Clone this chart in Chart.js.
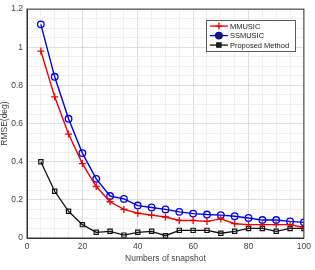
<!DOCTYPE html>
<html>
<head>
<meta charset="utf-8">
<script src="https://cdn.jsdelivr.net/npm/chart.js@4/dist/chart.umd.min.js"></script>
<style>
  html, body { margin: 0; padding: 0; background: #fff; }
  #wrap { width: 315px; height: 270px; }
</style>
</head>
<body>
<div id="wrap"><canvas id="rmseChart" width="315" height="270"></canvas></div>
<script>
const snapshots = [5, 10, 15, 20, 25, 30, 35, 40, 45, 50, 55, 60, 65, 70, 75, 80, 85, 90, 95, 100];
const mmusic = [0.98, 0.74, 0.545, 0.39, 0.27, 0.19, 0.15, 0.13, 0.12, 0.11, 0.092, 0.092, 0.087, 0.1, 0.075, 0.07, 0.07, 0.07, 0.07, 0.055];
const ssmusic = [1.12, 0.845, 0.625, 0.445, 0.31, 0.22, 0.205, 0.17, 0.16, 0.15, 0.137, 0.128, 0.123, 0.12, 0.114, 0.105, 0.094, 0.094, 0.087, 0.082];
const proposed = [0.40, 0.245, 0.14, 0.07, 0.03, 0.035, 0.015, 0.03, 0.035, 0.012, 0.04, 0.04, 0.04, 0.025, 0.035, 0.05, 0.05, 0.035, 0.05, 0.05];
const xTickLabels = [0, 20, 40, 60, 80, 100];
const yTickLabels = [0, 0.2, 0.4, 0.6, 0.8, 1, 1.2];

const font = "'Liberation Sans', Arial, sans-serif";

function toPoints(vals) {
    return vals.map((v, i) => ({x: snapshots[i], y: v}));
}

function isMajor(v, step) {
    return Math.abs(v / step - Math.round(v / step)) < 1e-6;
}

// matlab style legend box with line + marker
const boxLegend = {
    id: 'boxLegend',
    afterDraw(chart) {
        const ctx = chart.ctx;
        const a = chart.chartArea;
        const w = 89, h = 31;
        const x0 = a.right - w - 9, y0 = a.top + 11;
        ctx.save();
        ctx.fillStyle = '#fff';
        ctx.fillRect(x0, y0, w, h);
        ctx.strokeStyle = '#333';
        ctx.lineWidth = 0.8;
        ctx.strokeRect(x0 + 0.5, y0 + 0.5, w, h);
        ctx.font = '7.5px ' + font;
        ctx.textBaseline = 'middle';
        chart.data.datasets.forEach((ds, i) => {
            const cy = y0 + 6 + i * 9.5;
            ctx.strokeStyle = ds.borderColor;
            ctx.lineWidth = 1.3;
            ctx.beginPath();
            ctx.moveTo(x0 + 4, cy);
            ctx.lineTo(x0 + 22, cy);
            ctx.stroke();
            Chart.helpers.drawPoint(ctx, {
                pointStyle: ds.pointStyle, rotation: 0, radius: ds.pointRadius,
                borderWidth: 1.2
            }, x0 + 13, cy);
            ctx.fillStyle = '#222';
            ctx.fillText(ds.label, x0 + 24, cy + 0.5);
        });
        ctx.restore();
    }
};

const ctx = document.getElementById('rmseChart').getContext('2d');
const chart = new Chart(ctx, {
    type: 'line',
    data: {
        datasets: [
            {
                label: 'MMUSIC',
                data: toPoints(mmusic),
                borderColor: '#f00000',
                backgroundColor: 'rgba(0,0,0,0)',
                pointStyle: 'cross',
                pointRadius: 3.5,
                pointBorderWidth: 1.3,
                borderWidth: 1.4
            },
            {
                label: 'SSMUSIC',
                data: toPoints(ssmusic),
                borderColor: '#0000f0',
                backgroundColor: 'rgba(0,0,0,0)',
                pointStyle: 'circle',
                pointRadius: 3.3,
                pointBorderWidth: 1.3,
                borderWidth: 1.4
            },
            {
                label: 'Proposed Method',
                data: toPoints(proposed),
                borderColor: '#111111',
                backgroundColor: 'rgba(0,0,0,0)',
                pointStyle: 'rect',
                pointRadius: 3,
                pointBorderWidth: 1.2,
                borderWidth: 1.3
            }
        ]
    },
    options: {
        responsive: false,
        animation: false,
        layout: { padding: { top: 7, right: 8, left: 0, bottom: 6 } },
        plugins: {
            legend: { display: false },
            tooltip: { enabled: false }
        },
        scales: {
            x: {
                type: 'linear',
                min: 0,
                max: 100,
                ticks: {
                    stepSize: 5,
                    autoSkip: false,
                    maxRotation: 0,
                    color: '#444',
                    font: { family: font, size: 8.5 },
                    padding: 4,
                    callback: v => xTickLabels.includes(v) ? String(v) : ''
                },
                grid: {
                    color: c => isMajor(c.tick.value, 20) ? '#d4d4d4' : '#ececec',
                    lineWidth: 0.8,
                    tickLength: 0
                },
                border: { color: '#333', width: 1 },
                title: {
                    display: true,
                    text: 'Numbers of snapshot',
                    color: '#444',
                    font: { family: font, size: 8.5 },
                    padding: { top: 1, bottom: 0 }
                },
                afterFit(scale) { scale.height = 26; }
            },
            y: {
                min: 0,
                max: 1.2,
                ticks: {
                    stepSize: 0.05,
                    autoSkip: false,
                    color: '#444',
                    font: { family: font, size: 8.5 },
                    padding: 4,
                    callback: v => yTickLabels.some(t => Math.abs(t - v) < 1e-6) ? String(Math.round(v * 10) / 10) : ''
                },
                grid: {
                    color: c => isMajor(c.tick.value, 0.2) ? '#d4d4d4' : '#ececec',
                    lineWidth: 0.8,
                    tickLength: 0
                },
                border: { color: '#333', width: 1 },
                title: {
                    display: true,
                    text: 'RMSE(deg)',
                    color: '#444',
                    font: { family: font, size: 8.5 },
                    padding: { top: 0, bottom: 0 }
                },
                afterFit(scale) { scale.width = 27; }
            }
        }
    },
    plugins: [boxLegend, {
        id: 'frame',
        afterDatasetsDraw(chart) {
            const a = chart.chartArea, c = chart.ctx;
            c.save();
            c.strokeStyle = '#333';
            c.lineWidth = 1;
            c.strokeRect(a.left, a.top, a.right - a.left, a.bottom - a.top);
            c.restore();
        }
    }]
});
</script>
</body>
</html>
